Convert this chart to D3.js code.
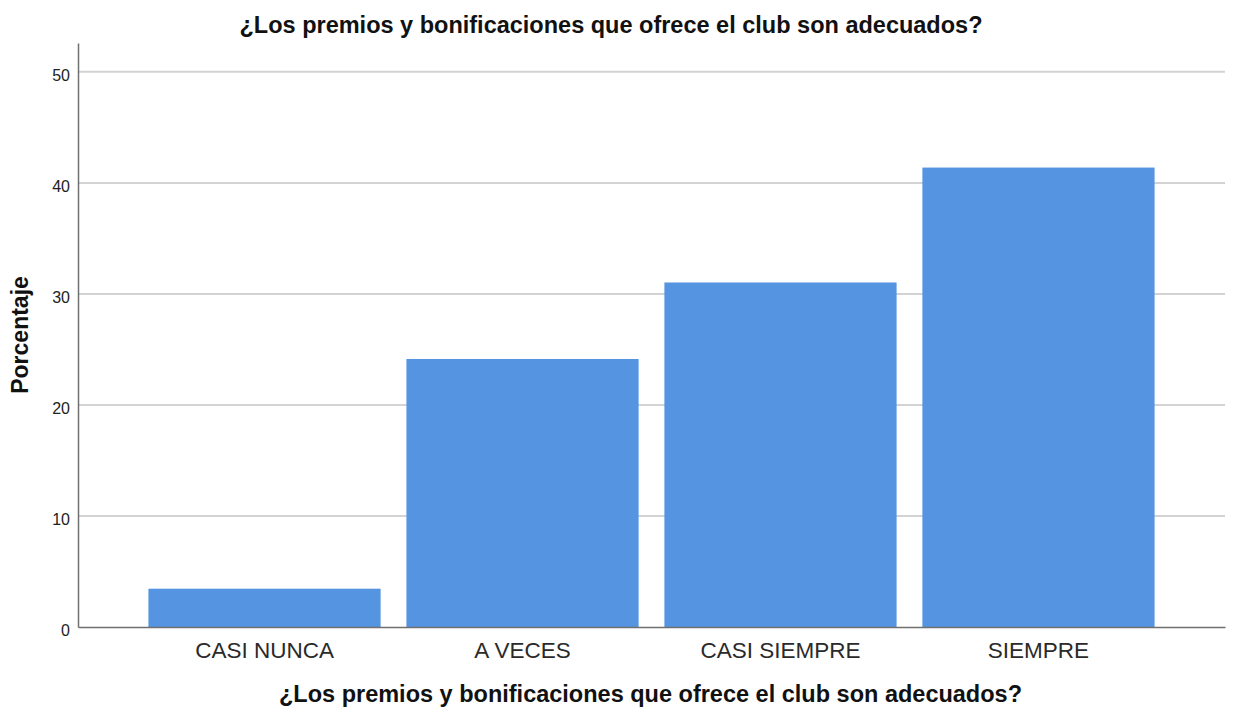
<!DOCTYPE html>
<html>
<head>
<meta charset="utf-8">
<script src="https://cdn.jsdelivr.net/npm/d3@7"></script>
<style>
  html, body { margin: 0; padding: 0; background: #fff; }
  svg { display: block; }
  text { font-family: "Liberation Sans", Arial, sans-serif; }
</style>
</head>
<body>
<svg id="chart" width="1233" height="710"></svg>
<script>
const categories = ["CASI NUNCA", "A VECES", "CASI SIEMPRE", "SIEMPRE"];
const percentages = [3.45, 24.14, 31.03, 41.38];
const yTicks = [0, 10, 20, 30, 40, 50];
const chartTitle = "¿Los premios y bonificaciones que ofrece el club son adecuados?";
const xTitle = "¿Los premios y bonificaciones que ofrece el club son adecuados?";
const yTitle = "Porcentaje";

const svg = d3.select("#chart");
const mLeft = 78, mRight = 1225, mTop = 43, mBottom = 627;

const x = d3.scaleBand().domain(categories).range([mLeft, mRight])
  .paddingInner(0.1).paddingOuter(0.273);
const y = d3.scaleLinear().domain([0, 52.6]).range([mBottom, mTop]);

// gridlines
svg.append("g").selectAll("line")
  .data(yTicks.filter(d => d > 0))
  .join("line")
  .attr("x1", mLeft).attr("x2", mRight)
  .attr("y1", d => y(d)).attr("y2", d => y(d))
  .attr("stroke", "#d3d3d3").attr("stroke-width", 2);

// bars
svg.append("g").selectAll("rect")
  .data(categories.map((c, i) => ({ c, v: percentages[i] })))
  .join("rect")
  .attr("x", d => x(d.c))
  .attr("width", x.bandwidth())
  .attr("y", d => y(d.v))
  .attr("height", d => y(0) - y(d.v))
  .attr("fill", "#5594e1");

// y axis
const yAxis = svg.append("g")
  .attr("transform", `translate(${mLeft},0)`)
  .call(d3.axisLeft(y).tickValues(yTicks).tickSize(0).tickPadding(8).tickFormat(d3.format("d")));
yAxis.select(".domain").attr("stroke", "#707070").attr("stroke-width", 1.5);
yAxis.selectAll("text").attr("font-size", 16).attr("fill", "#222")
  .attr("font-family", "'Liberation Sans', Arial, sans-serif")
  .attr("dy", "0.55em");

// x axis
const xAxis = svg.append("g")
  .attr("transform", `translate(0,${mBottom})`)
  .call(d3.axisBottom(x).tickSize(0).tickPadding(15));
xAxis.select(".domain").attr("stroke", "#707070").attr("stroke-width", 1.5);
xAxis.selectAll("text").attr("font-size", 22.5).attr("fill", "#2a2a2a")
  .attr("font-family", "'Liberation Sans', Arial, sans-serif");

// titles
svg.append("text")
  .attr("x", 611).attr("y", 33)
  .attr("text-anchor", "middle")
  .attr("font-size", 23.5).attr("font-weight", "bold").attr("fill", "#111")
  .text(chartTitle);

svg.append("text")
  .attr("x", 650.5).attr("y", 702)
  .attr("text-anchor", "middle")
  .attr("font-size", 23.5).attr("font-weight", "bold").attr("fill", "#111")
  .text(xTitle);

svg.append("text")
  .attr("transform", `translate(28,${(mTop + mBottom) / 2}) rotate(-90)`)
  .attr("text-anchor", "middle")
  .attr("font-size", 23).attr("font-weight", "bold").attr("fill", "#111")
  .text(yTitle);
</script>
</body>
</html>
